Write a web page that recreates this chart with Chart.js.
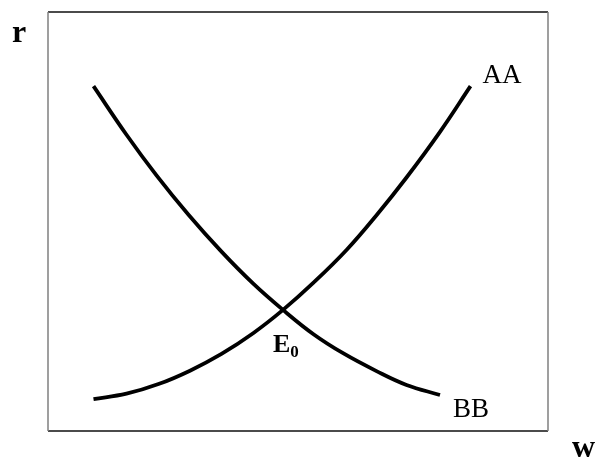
<!DOCTYPE html>
<html>
<head>
<meta charset="utf-8">
<script src="https://cdn.jsdelivr.net/npm/chart.js@4/dist/chart.umd.min.js"></script>
<style>
  html, body { margin: 0; padding: 0; background: #fff; }
  #wrap { width: 595px; height: 460px; position: relative; }
</style>
</head>
<body>
<div id="wrap"><canvas id="chart" width="595" height="460"></canvas></div>
<script>
/* AA / BB curves (axis units 0..10) */
const aaX = [0.91, 1.57, 2.21, 2.84, 3.47, 4.11, 4.70, 5.31, 5.97, 6.57, 7.17, 7.84, 8.45];
const aaY = [0.76, 0.89, 1.12, 1.44, 1.84, 2.34, 2.89, 3.54, 4.32, 5.15, 6.05, 7.14, 8.23];
const bbX = [0.91, 1.57, 2.17, 2.81, 3.47, 4.11, 4.70, 5.31, 5.91, 6.57, 7.17, 7.84];
const bbY = [8.23, 7.07, 6.10, 5.16, 4.28, 3.51, 2.89, 2.31, 1.85, 1.43, 1.10, 0.86];
const equilibrium = { x: 4.70, y: 2.89 };

const toPoints = (xs, ys) => xs.map((x, i) => ({ x, y: ys[i] }));
const serif = '"Liberation Serif", "DejaVu Serif", serif';

/* frame + labels */
const labelsPlugin = {
  id: 'labels',
  afterDatasetsDraw(chart) {
    const { ctx, chartArea: a, scales } = chart;
    const xs = scales.x, ys = scales.y;
    ctx.save();
    // frame
    ctx.lineWidth = 1.5;
    ctx.strokeStyle = '#111';
    ctx.beginPath();
    ctx.moveTo(a.left, a.top); ctx.lineTo(a.right, a.top);
    ctx.moveTo(a.left, a.bottom); ctx.lineTo(a.right, a.bottom);
    ctx.stroke();
    ctx.strokeStyle = '#808080';
    ctx.beginPath();
    ctx.moveTo(a.left, a.top); ctx.lineTo(a.left, a.bottom);
    ctx.moveTo(a.right, a.top); ctx.lineTo(a.right, a.bottom);
    ctx.stroke();

    ctx.fillStyle = '#000';
    ctx.textBaseline = 'alphabetic';
    ctx.textAlign = 'left';

    // axis letters
    ctx.font = 'bold 32px ' + serif;
    ctx.fillText('r', 12, 42);
    ctx.fillText('w', 572, 457);

    // curve names at curve ends
    ctx.font = '27px ' + serif;
    const aEnd = aaX.length - 1, bEnd = bbX.length - 1;
    ctx.fillText('AA', xs.getPixelForValue(aaX[aEnd]) + 12, ys.getPixelForValue(aaY[aEnd]) - 3);
    ctx.fillText('BB', xs.getPixelForValue(bbX[bEnd]) + 13, ys.getPixelForValue(bbY[bEnd]) + 22);

    // equilibrium label
    const ex = xs.getPixelForValue(equilibrium.x), ey = ys.getPixelForValue(equilibrium.y);
    ctx.font = 'bold 26px ' + serif;
    ctx.fillText('E', ex - 10, ey + 42);
    const ew = ctx.measureText('E').width;
    ctx.font = 'bold 17px ' + serif;
    ctx.fillText('0', ex - 10 + ew, ey + 47);
    ctx.restore();
  }
};

new Chart(document.getElementById('chart'), {
  type: 'scatter',
  data: {
    datasets: [
      { label: 'AA', data: toPoints(aaX, aaY) },
      { label: 'BB', data: toPoints(bbX, bbY) }
    ]
  },
  options: {
    responsive: false,
    animation: false,
    showLine: true,
    clip: false,
    layout: { padding: { left: 48, right: 47, top: 12, bottom: 29 } },
    elements: {
      line: { borderColor: '#000', borderWidth: 3.8, tension: 0.4, borderCapStyle: 'butt' },
      point: { radius: 0, hoverRadius: 0 }
    },
    scales: {
      x: { type: 'linear', min: 0, max: 10, display: false },
      y: { type: 'linear', min: 0, max: 10, display: false }
    },
    plugins: { legend: { display: false }, tooltip: { enabled: false } }
  },
  plugins: [labelsPlugin]
});
</script>
</body>
</html>
